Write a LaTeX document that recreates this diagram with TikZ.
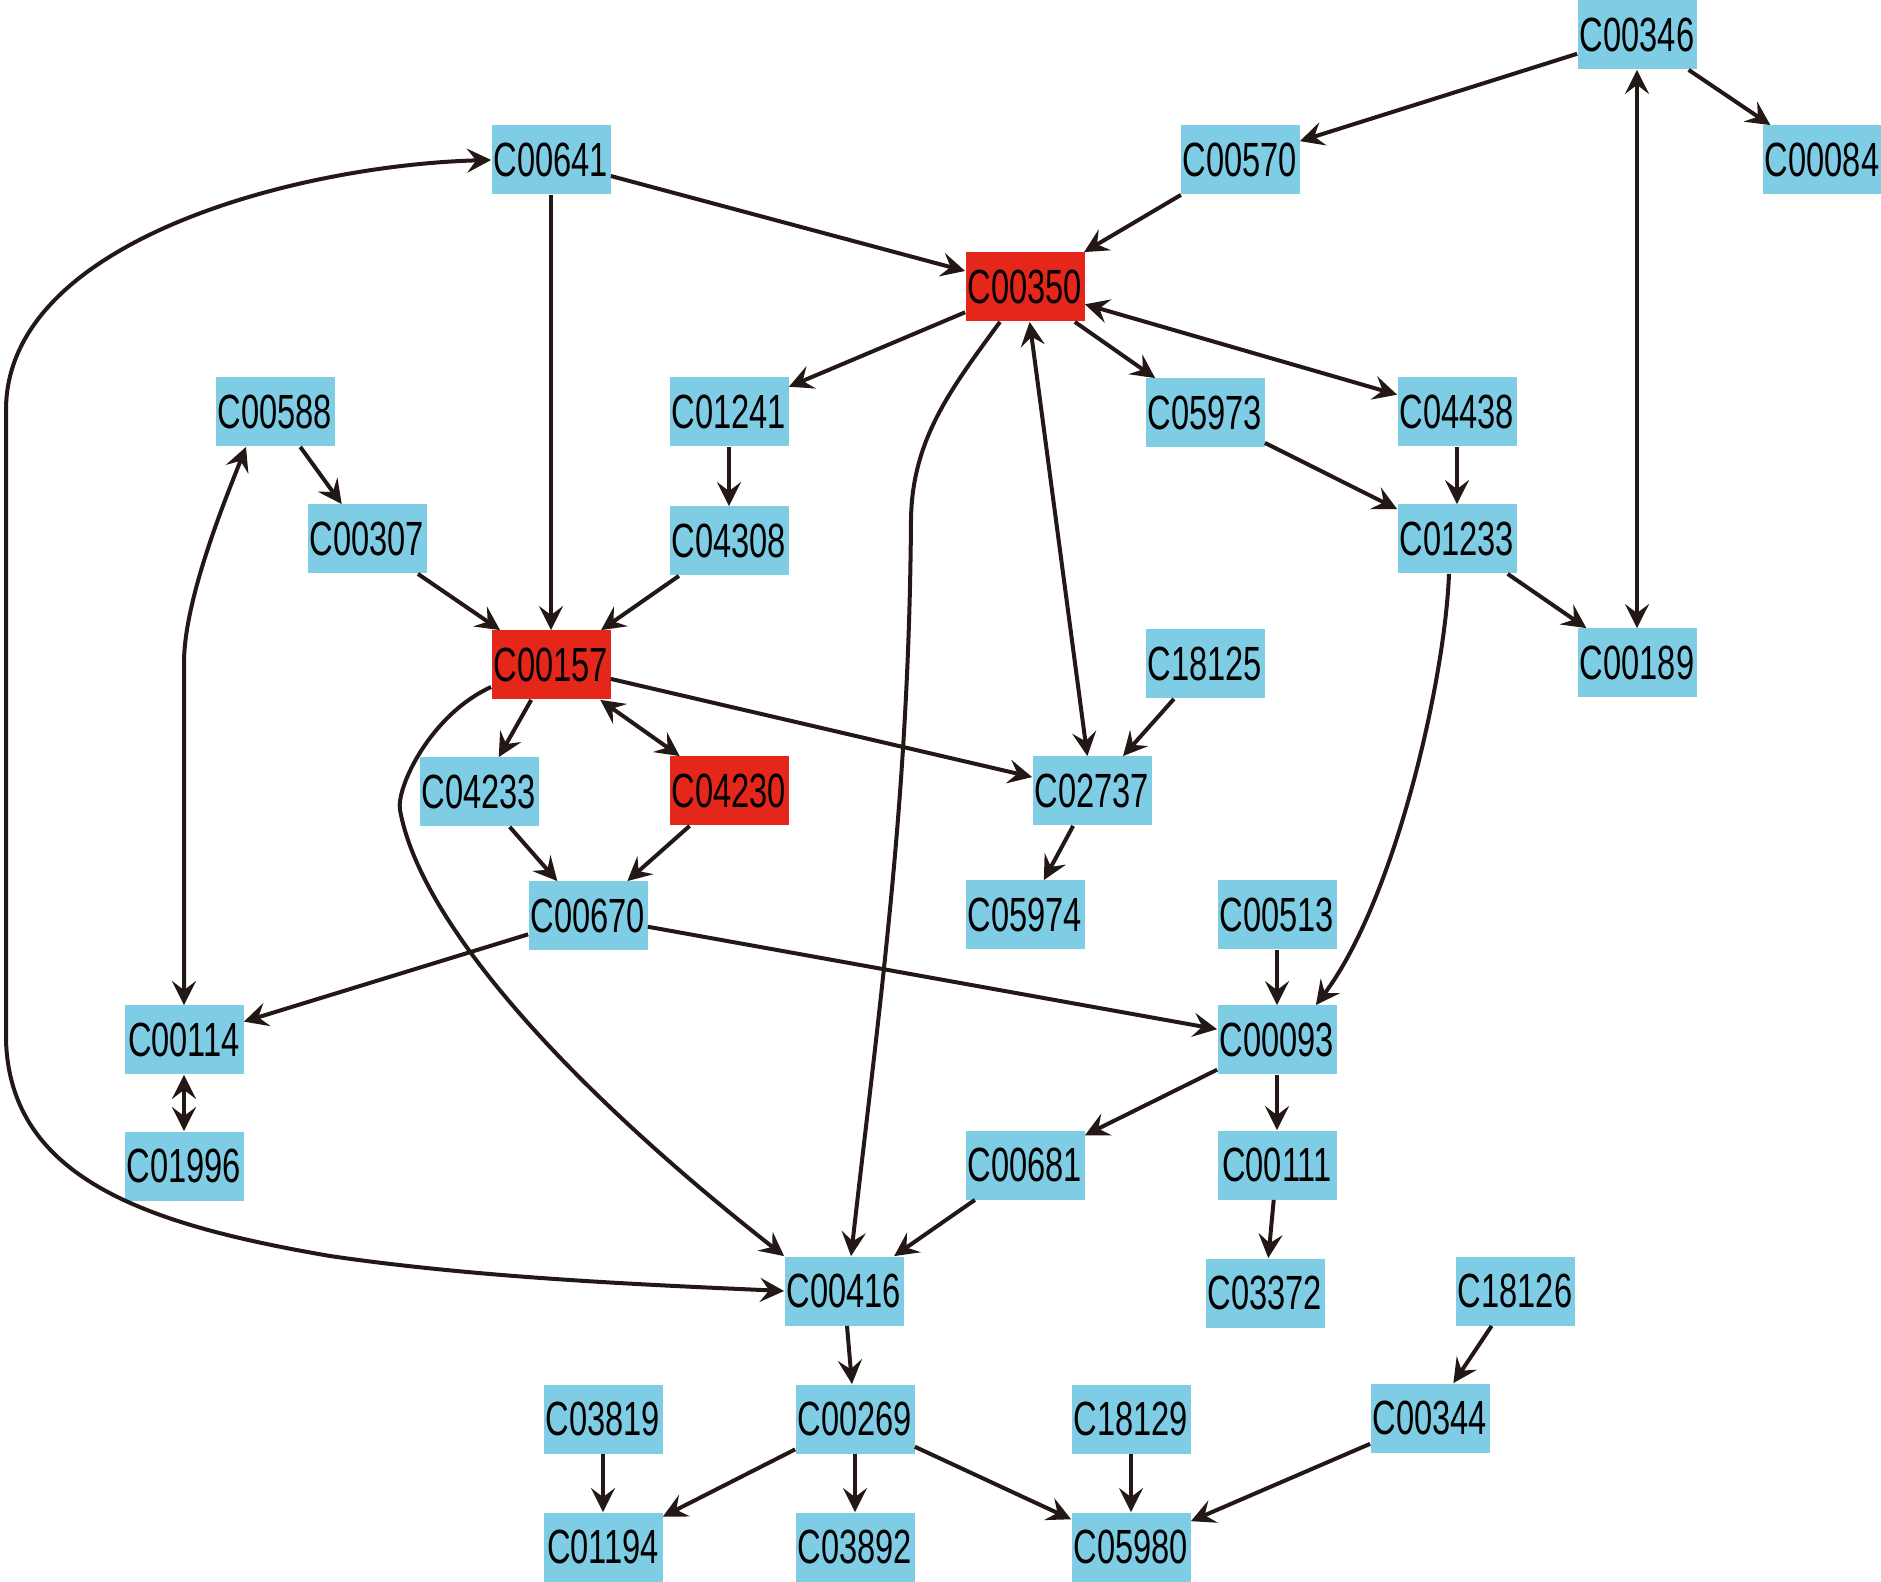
\documentclass[tikz,border=0pt]{standalone}
\usepackage{fontspec}
\newfontfamily\nodefont[FakeStretch=0.68]{Liberation Sans}
\usetikzlibrary{arrows.meta,calc}
\definecolor{nblue}{RGB}{127,205,228}
\definecolor{nred}{RGB}{228,38,27}
\definecolor{eline}{RGB}{35,24,21}
\begin{document}
\begin{tikzpicture}[x=0.5pt,y=-0.5pt,
  >={Stealth[length=12pt,width=12pt,inset=4.5pt]},
  cpd/.style={fill=nblue, minimum width=59.5pt, minimum height=34.5pt, inner sep=0pt,
    font=\nodefont\fontsize{24}{24}\selectfont, text=black},
  hub/.style={cpd, fill=nred},
  edge/.style={draw=eline, line width=2pt}]
\useasboundingbox (0,0) rectangle (1881,1582);
% nodes
\node[cpd] (n00346) at (1637,35) {C00346};
\node[cpd] (n00570) at (1240,160) {C00570};
\node[cpd] (n00084) at (1822,160) {C00084};
\node[cpd] (n00641) at (551,160) {C00641};
\node[hub] (n00350) at (1025,287) {C00350};
\node[cpd] (n00588) at (275,412) {C00588};
\node[cpd] (n01241) at (729,412) {C01241};
\node[cpd] (n05973) at (1205,413) {C05973};
\node[cpd] (n04438) at (1457,412) {C04438};
\node[cpd] (n00307) at (367,539) {C00307};
\node[cpd] (n04308) at (729,541) {C04308};
\node[cpd] (n01233) at (1457,539) {C01233};
\node[hub] (n00157) at (551,665) {C00157};
\node[cpd] (n18125) at (1205,664) {C18125};
\node[cpd] (n00189) at (1637,663) {C00189};
\node[cpd] (n04233) at (479,792) {C04233};
\node[hub] (n04230) at (729,791) {C04230};
\node[cpd] (n02737) at (1092,791) {C02737};
\node[cpd] (n00670) at (588,916) {C00670};
\node[cpd] (n05974) at (1025,915) {C05974};
\node[cpd] (n00513) at (1277,915) {C00513};
\node[cpd] (n00114) at (184,1040) {C00114};
\node[cpd] (n00093) at (1277,1040) {C00093};
\node[cpd] (n01996) at (184,1166) {C01996};
\node[cpd] (n00681) at (1025,1165) {C00681};
\node[cpd] (n00111) at (1277,1165) {C00111};
\node[cpd] (n00416) at (844,1291) {C00416};
\node[cpd] (n03372) at (1265,1293) {C03372};
\node[cpd] (n18126) at (1515,1291) {C18126};
\node[cpd] (n03819) at (603,1419) {C03819};
\node[cpd] (n00269) at (855,1419) {C00269};
\node[cpd] (n18129) at (1131,1419) {C18129};
\node[cpd] (n00344) at (1430,1418) {C00344};
\node[cpd] (n01194) at (603,1547) {C01194};
\node[cpd] (n03892) at (855,1547) {C03892};
\node[cpd] (n05980) at (1131,1547) {C05980};
% straight edges
\draw[edge,->] (n00346) -- (n00570);
\draw[edge,->] (n00346) -- (n00084);
\draw[edge,<->] (n00346) -- (n00189);
\draw[edge,->] (n00570) -- (n00350);
\draw[edge,->] (n00641) -- (n00350);
\draw[edge,->] (n00641) -- (n00157);
\draw[edge,->] (n00350) -- (n01241);
\draw[edge,->] (n00350) -- (n05973);
\draw[edge,<->] (n00350) -- (n04438);
\draw[edge,<->] (n00350) -- (n02737);
\draw[edge,->] (n00588) -- (n00307);
\draw[edge,->] (n01241) -- (n04308);
\draw[edge,->] (n00307) -- (n00157);
\draw[edge,->] (n04308) -- (n00157);
\draw[edge,->] (n05973) -- (n01233);
\draw[edge,->] (n04438) -- (n01233);
\draw[edge,->] (n01233) -- (n00189);
\draw[edge,->] (n00157) -- (n04233);
\draw[edge,<->] (n00157) -- (n04230);
\draw[edge,->] (n00157) -- (n02737);
\draw[edge,->] (n18125) -- (n02737);
\draw[edge,->] (n02737) -- (n05974);
\draw[edge,->] (n04233) -- (n00670);
\draw[edge,->] (n04230) -- (n00670);
\draw[edge,->] (n00670) -- (n00114);
\draw[edge,->] (n00670) -- (n00093);
\draw[edge,->] (n00513) -- (n00093);
\draw[edge,<->] (n00114) -- (n01996);
\draw[edge,->] (n00093) -- (n00681);
\draw[edge,->] (n00093) -- (n00111);
\draw[edge,->] (n00681) -- (n00416);
\draw[edge,->] (n00111) -- (n03372);
\draw[edge,->] (n00416) -- (n00269);
\draw[edge,->] (n18126) -- (n00344);
\draw[edge,->] (n03819) -- (n01194);
\draw[edge,->] (n00269) -- (n01194);
\draw[edge,->] (n00269) -- (n03892);
\draw[edge,->] (n00269) -- (n05980);
\draw[edge,->] (n18129) -- (n05980);
\draw[edge,->] (n00344) -- (n05980);
% curved edges
\draw[edge,<->] (n00641.west) .. controls (300,165) and (6,240) .. (6,410)
  -- (6,1040) .. controls (10,1180) and (150,1225) .. (330,1256)
  .. controls (480,1278) and (650,1285) .. (n00416.west);
\draw[edge,->] ($(n00350.south)+(-25,0)$) .. controls (950,390) and (912,440) .. (911,520)
  .. controls (909,800) and (880,1000) .. ($(n00416.north)+(7,0)$);
\draw[edge,->] ($(n00157.west)+(0,22)$) .. controls (430,715) and (396,788) .. (400,810)
  .. controls (420,920) and (560,1080) .. (n00416.north west);
\draw[edge,<->] (n00114.north) -- (184,663) .. controls (184,600) and (225,500) .. ($(n00588.south)+(-29,0)$);
\draw[edge,->] ($(n01233.south)+(-8,0)$) .. controls (1445,680) and (1395,900) .. ($(n00093.north east)+(-21,0)$);
\end{tikzpicture}
\end{document}
